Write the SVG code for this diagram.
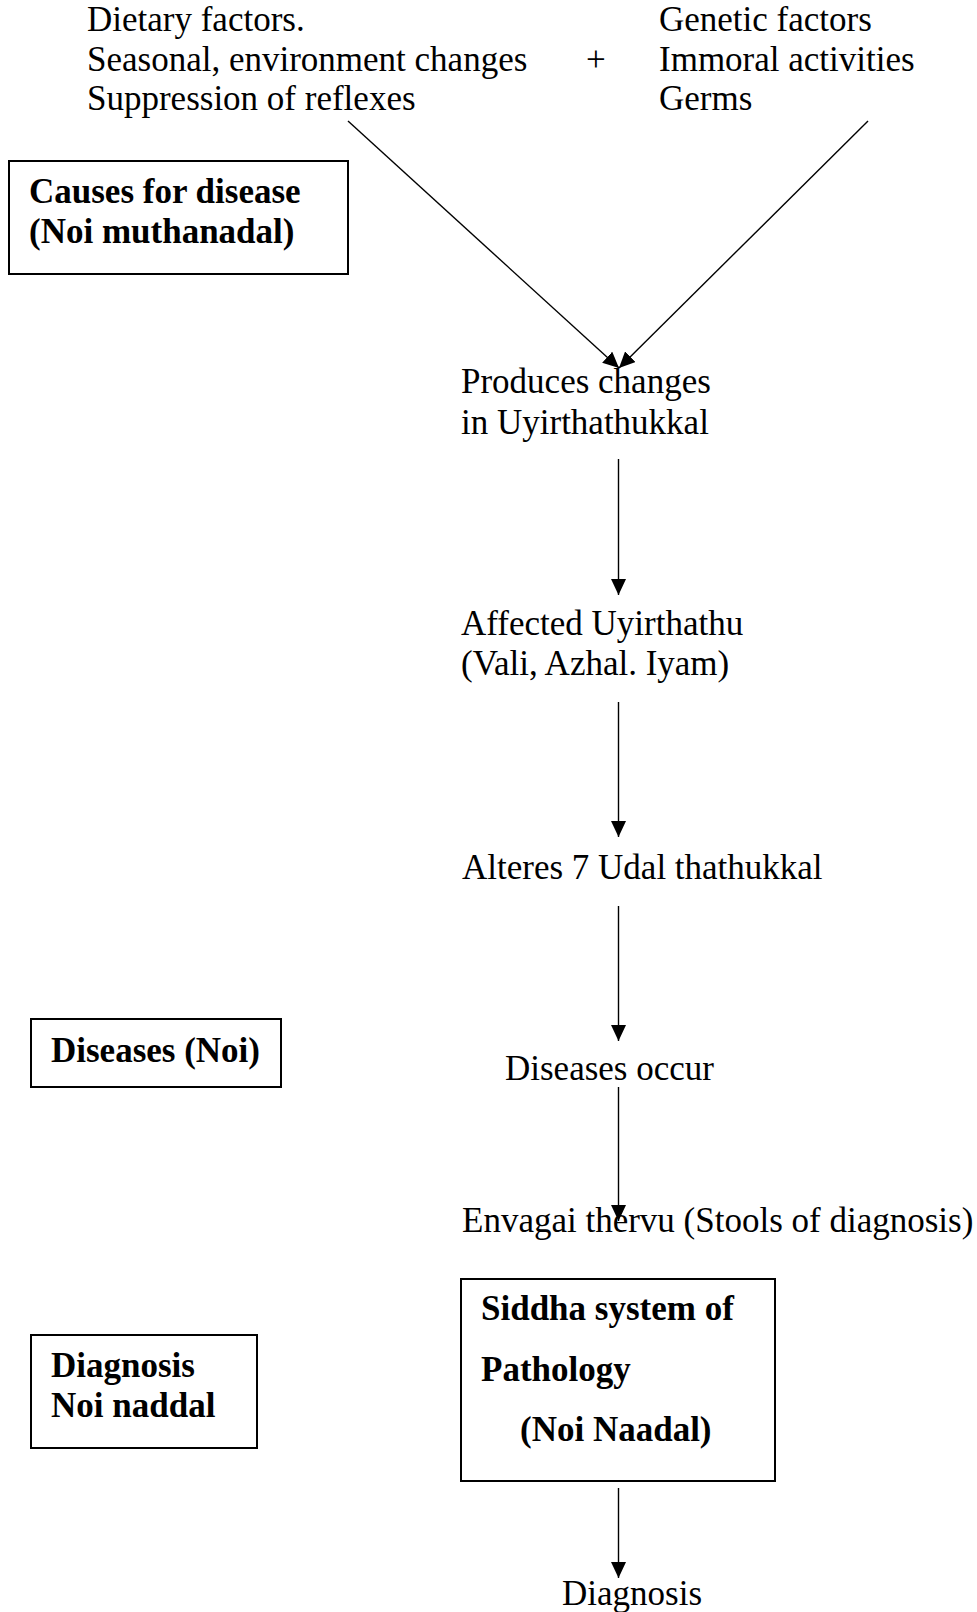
<svg xmlns="http://www.w3.org/2000/svg" width="977" height="1612" viewBox="0 0 977 1612">
<style>
text{font-family:"Liberation Serif","Times New Roman",serif;font-size:35px;fill:#000}
.b{font-weight:bold}
.box{fill:none;stroke:#000;stroke-width:2}
.con{stroke:#000;stroke-width:1.4;fill:none;marker-end:url(#ah)}
</style>
<defs>
<marker id="ah" markerUnits="userSpaceOnUse" markerWidth="16" markerHeight="15" refX="16" refY="7.5" orient="auto" viewBox="0 0 16 15">
<path d="M0,0 L16,7.5 L0,15 z" fill="#000"/>
</marker>
</defs>
<rect width="977" height="1612" fill="#fff"/>
<g id="causes-left">
<text x="87" y="31">Dietary factors.</text>
<text x="87" y="71">Seasonal, environment changes</text>
<text x="87" y="110">Suppression of reflexes</text>
</g>
<g id="plus"><text x="586" y="71">+</text></g>
<g id="causes-right">
<text x="659" y="31">Genetic factors</text>
<text x="659" y="71">Immoral activities</text>
<text x="659" y="110">Germs</text>
</g>
<g id="label-causes">
<rect class="box" x="9" y="161" width="339" height="113"/>
<text class="b" x="29" y="203">Causes for disease</text>
<text class="b" x="29" y="243">(Noi muthanadal)</text>
</g>
<g id="produces">
<text x="461" y="393">Produces changes</text>
<text x="461" y="434">in Uyirthathukkal</text>
</g>
<g id="affected">
<text x="461" y="635">Affected Uyirthathu</text>
<text x="461" y="675">(Vali, Azhal. Iyam)</text>
</g>
<g id="alteres"><text x="462" y="879">Alteres 7 Udal thathukkal</text></g>
<g id="label-diseases">
<rect class="box" x="31" y="1019" width="250" height="68"/>
<text class="b" x="51" y="1062">Diseases (Noi)</text>
</g>
<g id="diseases-occur"><text x="505" y="1080">Diseases occur</text></g>
<g id="envagai"><text x="462" y="1232">Envagai thervu (Stools of diagnosis)</text></g>
<g id="label-diagnosis">
<rect class="box" x="31" y="1335" width="226" height="113"/>
<text class="b" x="51" y="1377">Diagnosis</text>
<text class="b" x="51" y="1417">Noi naddal</text>
</g>
<g id="siddha">
<rect class="box" x="461" y="1279" width="314" height="202"/>
<text class="b" x="481" y="1320">Siddha system of</text>
<text class="b" x="481" y="1381">Pathology</text>
<text class="b" x="520" y="1441">(Noi Naadal)</text>
</g>
<g id="diagnosis"><text x="562" y="1605">Diagnosis</text></g>
<g id="connectors">
<line class="con" x1="348" y1="121" x2="619" y2="368"/>
<line class="con" x1="868" y1="121" x2="619" y2="368"/>
<line class="con" x1="618.5" y1="459" x2="618.5" y2="595"/>
<line class="con" x1="618.5" y1="702" x2="618.5" y2="837"/>
<line class="con" x1="618.5" y1="906" x2="618.5" y2="1041"/>
<line class="con" x1="618.5" y1="1087" x2="618.5" y2="1221"/>
<line class="con" x1="618.5" y1="1488" x2="618.5" y2="1578"/>
</g>
</svg>
